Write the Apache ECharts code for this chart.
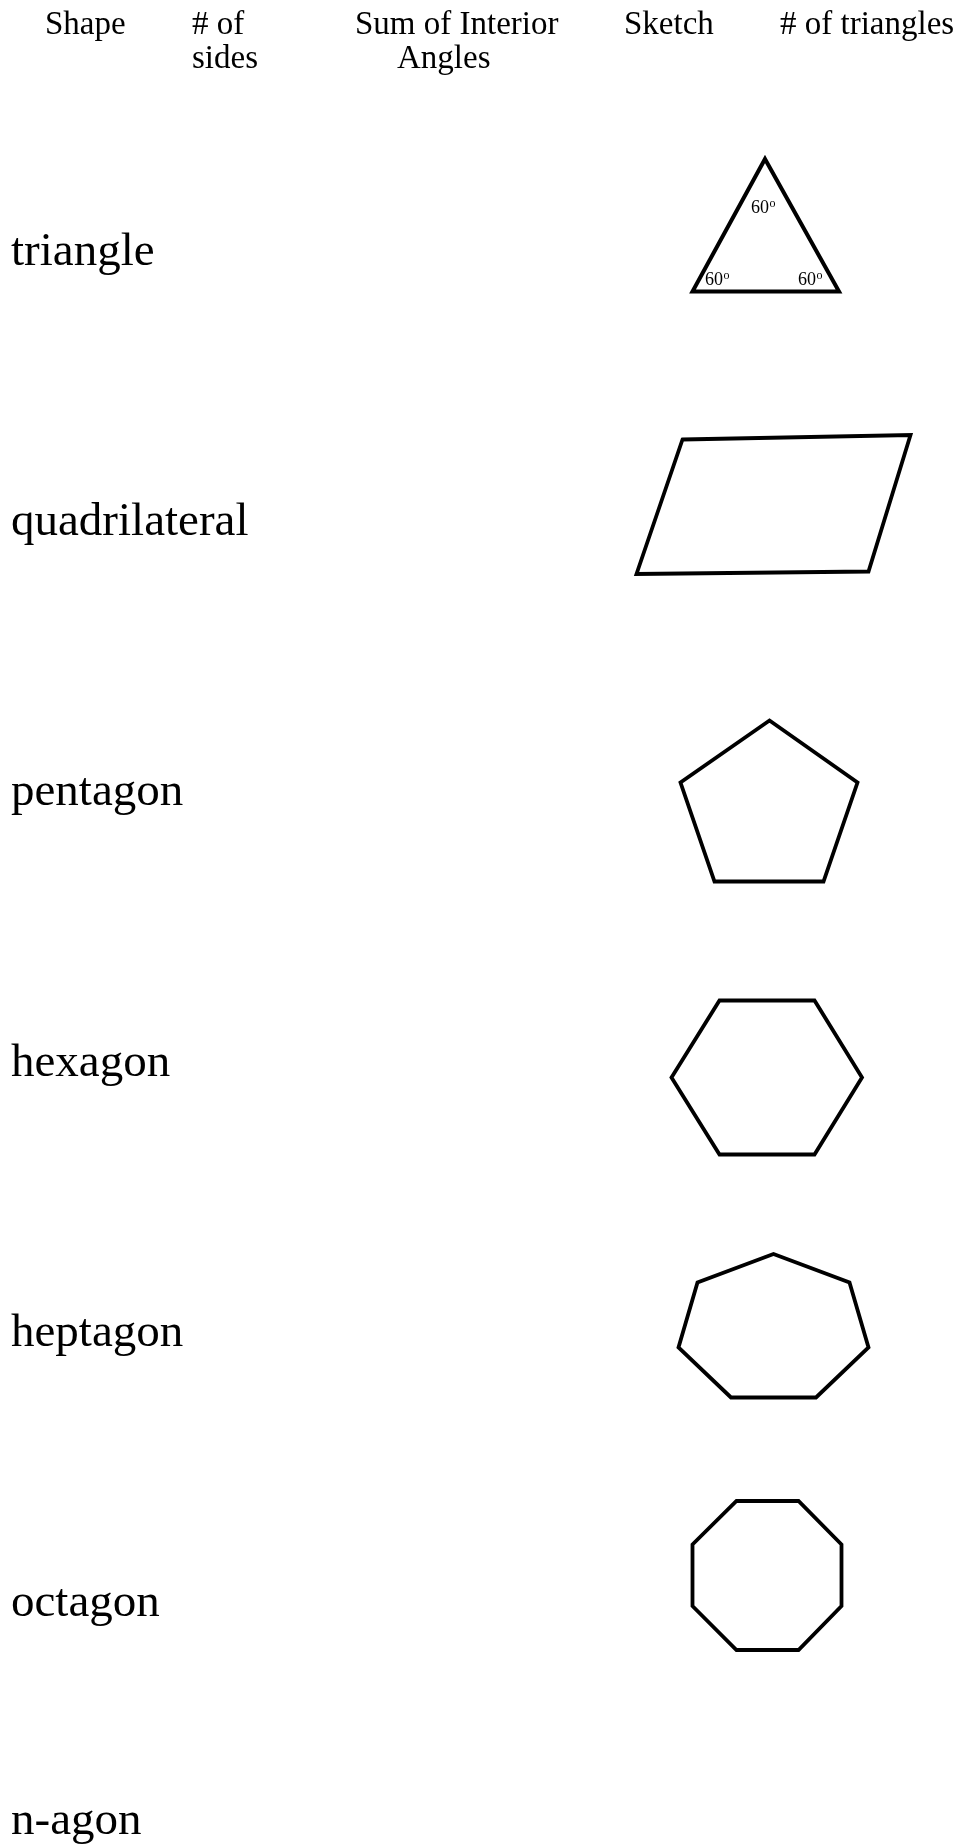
<!DOCTYPE html>
<html>
<head>
<meta charset="utf-8">
<title>Polygons</title>
<script src="https://cdn.jsdelivr.net/npm/echarts@6/dist/echarts.min.js"></script>
<style>
  html, body { margin: 0; padding: 0; background: #fff; }
  #chart { width: 958px; height: 1845px; }
</style>
</head>
<body>
<div id="chart"></div>
<script>
// column headings (each line separately)
var headerLines = ['Shape', '# of', 'sides', 'Sum of Interior', 'Angles', 'Sketch', '# of triangles'];
// shape names, one per row
var shapeNames = ['triangle', 'quadrilateral', 'pentagon', 'hexagon', 'heptagon', 'octagon', 'n-agon'];
// sketch vertices (x, y in page pixels)
var triangleVerts = [[765, 159], [839, 291.5], [692.5, 291.5]];
var quadVerts = [[682.5, 439.5], [910.5, 435], [868.5, 571.5], [636.5, 574]];
var pentagonVerts = [[769.5, 720.5], [857.5, 782.5], [823.5, 881.5], [714.5, 881.5], [680.5, 782.5]];
var hexagonVerts = [[719.5, 1000.5], [814.5, 1000.5], [862, 1077.5], [814.5, 1154.5], [719.5, 1154.5], [671.5, 1077.5]];
var heptagonVerts = [[773.5, 1254], [849.5, 1282.5], [868.5, 1347.5], [816, 1397.5], [731, 1397.5], [678.5, 1347.5], [697.5, 1282.5]];
var octagonVerts = [[736.5, 1501], [798.5, 1501], [841.5, 1544.5], [841.5, 1606], [798.5, 1650], [736.5, 1650], [692.5, 1606], [692.5, 1544.5]];
// angles marked in the triangle
var triangleAngles = [60, 60, 60];

var shapes = [triangleVerts, quadVerts, pentagonVerts, hexagonVerts, heptagonVerts, octagonVerts];

// layout
var serif = "'Liberation Serif', 'Times New Roman', serif";
var headerPos = [[45, 34], [192, 34], [192, 68], [355, 34], [397, 68], [624, 34], [780, 34]];
var rowBaseline = [266, 536, 806, 1077, 1347, 1617, 1835];
var anglePos = [[751, 212], [705, 284], [798, 284]];

// y of the text middle for a wanted baseline
function mid(baseline, fs) {
  return baseline - 0.3375 * fs + 2.5;
}

var graphics = [];
headerLines.forEach(function (t, i) {
  graphics.push({
    type: 'text',
    style: {
      text: t, x: headerPos[i][0], y: mid(headerPos[i][1], 33),
      font: '33px ' + serif, fill: '#000', align: 'left', verticalAlign: 'middle'
    }
  });
});
shapeNames.forEach(function (t, i) {
  graphics.push({
    type: 'text',
    style: {
      text: t, x: 11, y: mid(rowBaseline[i], 47),
      font: '47px ' + serif, fill: '#000', align: 'left', verticalAlign: 'middle'
    }
  });
});
triangleAngles.forEach(function (a, i) {
  graphics.push({
    type: 'text',
    z: 10,
    style: {
      text: String(a), x: anglePos[i][0], y: mid(anglePos[i][1], 18),
      font: '18px ' + serif, fill: '#000', align: 'left', verticalAlign: 'middle'
    }
  });
  graphics.push({
    type: 'text',
    z: 10,
    style: {
      text: 'o', x: anglePos[i][0] + 18.5, y: mid(anglePos[i][1] - 7, 12),
      font: '12px ' + serif, fill: '#000', align: 'left', verticalAlign: 'middle'
    }
  });
});

var myChart = echarts.init(document.getElementById('chart'), null, { renderer: 'canvas' });
var option = {
  backgroundColor: '#fff',
  animation: false,
  grid: { left: 0, right: 0, top: 0, bottom: 0 },
  xAxis: { type: 'value', min: 0, max: 958, show: false },
  yAxis: { type: 'value', min: 0, max: 1845, inverse: true, show: false },
  graphic: graphics,
  series: [{
    type: 'custom',
    coordinateSystem: 'cartesian2d',
    data: shapes.map(function (s, i) { return [s[0][0], s[0][1], i]; }),
    encode: { x: 0, y: 1 },
    renderItem: function (params, api) {
      var verts = shapes[params.dataIndex];
      var pts = verts.map(function (p) { return api.coord(p); });
      return {
        type: 'polygon',
        shape: { points: pts },
        style: {
          fill: 'none',
          stroke: '#000',
          lineWidth: params.dataIndex === 0 ? 4 : 3.8,
          lineJoin: 'miter'
        }
      };
    }
  }]
};
myChart.setOption(option);
</script>
</body>
</html>
